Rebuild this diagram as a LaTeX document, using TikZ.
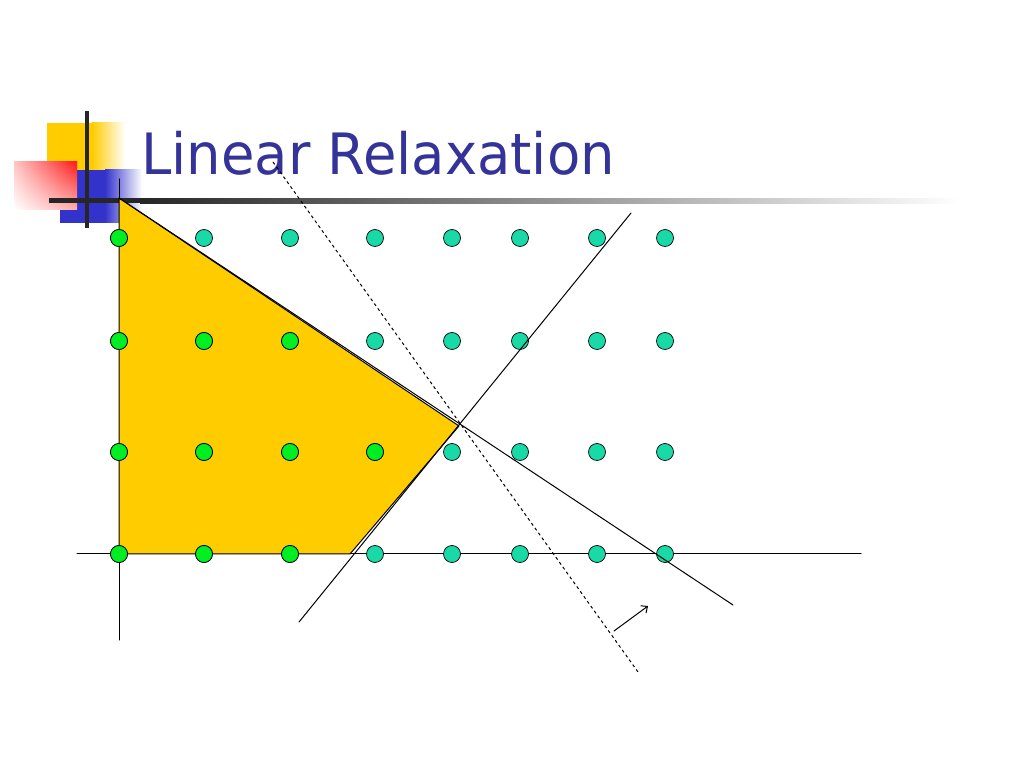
\documentclass[tikz,border=0pt]{standalone}
\usepackage{fontspec}
\usepackage{graphicx}
\newfontfamily\titleFont{DejaVu Sans}
\usepackage{tikz}
\usetikzlibrary{calc,shadings,arrows.meta}
\usepackage{xcolor}
\definecolor{gold}{HTML}{FFCC00}
\definecolor{titleBlue}{HTML}{333399}
\definecolor{inGreen}{HTML}{00EE22}
\definecolor{outTeal}{HTML}{19D9A6}
\definecolor{decoRed}{HTML}{FF1A1A}
\definecolor{decoBlue}{HTML}{3333CC}
\def\lineThickness{(1pt)}
\def\dotSize{(17pt)}
\tikzset{ext/.style={black,line width=\lineThickness,line cap=round}}
\tikzset{cutline/.style={black,line width=\lineThickness,dash pattern=on 3pt off 3pt}}
\tikzset{gdot/.style={fill=inGreen,draw=black,line width=0.7pt,circle,minimum size=\dotSize,inner sep=0}}
\tikzset{tdot/.style={fill=outTeal,draw=black,line width=0.7pt,circle,minimum size=\dotSize,inner sep=0}}
\begin{document}
\begin{tikzpicture}[x=1pt,y=1pt,>={Straight Barb[length=5pt,width=9pt]}]\useasboundingbox (0,0) rectangle (1024,768);
% slide decoration
\fill[gold](47,572)rectangle(92,645);\shade[left color=gold,right color=white](92,572)rectangle(125,645);
\fill[decoBlue](60,545)rectangle(105,598);\shade[left color=decoBlue,right color=white](105,545)rectangle(142,598);
\shade[upper right=decoRed,lower left=white,upper left=decoRed!25,lower right=decoRed!35](14,558)rectangle(77,606);
\fill[black!85](49,564.5)rectangle(140,569.5);\shade[left color=black!85,right color=white](140,564.5)rectangle(960,569.5);
\fill[black!85](85,540)rectangle(89,657);
\node[anchor=base west,inner sep=0,text=titleBlue] (title) at (141,593) {\titleFont\fontsize{57}{60}\selectfont\scalebox{0.955}[1]{Linear Relaxation}};
% axes and feasible region
\coordinate(o) at (119,214);\coordinate(xe) at (861,214);\coordinate(xs) at (77,214);\coordinate(ys) at (119,128);\coordinate(ye) at (119,589);
\coordinate(p1) at (119,570);\coordinate(p2) at (459,342);\coordinate(p3) at (350,214);
\draw[ext](xs)--(xe);\draw[ext](ys)--(ye);
\fill[gold,draw=black,line width=\lineThickness,line join=round](p1)--(p2)--(p3)--(o)--cycle;
% lattice points
\foreach\c/\x in {1/119,2/204,3/290,4/375,5/452,6/520,7/597,8/665}{\foreach\r/\y in {1/530,2/427,3/316,4/214}{\node[tdot] (d\r\c) at (\x,\y) {};}}
\foreach\r/\c in {1/1,2/1,2/2,2/3,3/1,3/2,3/3,3/4,4/1,4/2,4/3}{\node[gdot] at (d\r\c) {};}
% constraints, cut and objective
\coordinate(a1) at (119,570);\coordinate(a2) at (733,163);\coordinate(b1) at (299,146);\coordinate(b2) at (631,555);
\coordinate(c1) at (273,606);\coordinate(c2) at (638,96);\coordinate(v1) at (614,137);\coordinate(v2) at (648,162);
\draw[ext](a1)--(a2);\draw[ext](b1)--(b2);\draw[cutline](c1)--(c2);\draw[ext,->](v1)--(v2);
\end{tikzpicture}
\end{document}
